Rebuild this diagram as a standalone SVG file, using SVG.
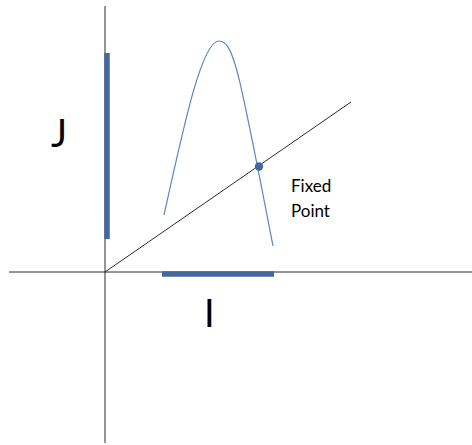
<svg xmlns="http://www.w3.org/2000/svg" width="472" height="445" viewBox="0 0 472 445">
<style>
.axis{stroke:#2b2b2b;stroke-width:1;fill:none}
.bar{stroke:#41699e;stroke-width:5.5;fill:none}
.curve{stroke:#5a86c0;stroke-width:1.2;fill:none}
.big{font-family:Lato,"Liberation Sans",sans-serif;font-size:38px;fill:#000}
.lbl{font-family:Lato,"Liberation Sans",sans-serif;font-size:17px;fill:#000}
</style>
<rect width="472" height="445" fill="#fff"/>
<g id="connectors">
<line class="axis" x1="105" y1="6" x2="105" y2="443"/>
<line class="axis" x1="9" y1="272" x2="472" y2="272"/>
<line class="axis" x1="105" y1="272" x2="351" y2="102"/>
</g>
<g id="bar-J"><line class="bar" x1="107" y1="53" x2="107" y2="239"/></g>
<g id="bar-I"><line class="bar" x1="162" y1="274" x2="274" y2="274"/></g>
<g id="curve"><path class="curve" d="M164,215 C184.4,122.6 202,41 219,41 C234,41 239.4,73.2 273,246"/></g>
<g id="fixed-point"><circle cx="259" cy="166.5" r="4.2" fill="#41699e"/></g>
<g id="label-J"><text class="big" x="51" y="147">J</text></g>
<g id="label-I"><text class="big" x="204" y="327">I</text></g>
<g id="label-fixed"><text class="lbl" x="291" y="192">Fixed</text><text class="lbl" x="291" y="217">Point</text></g>
</svg>
